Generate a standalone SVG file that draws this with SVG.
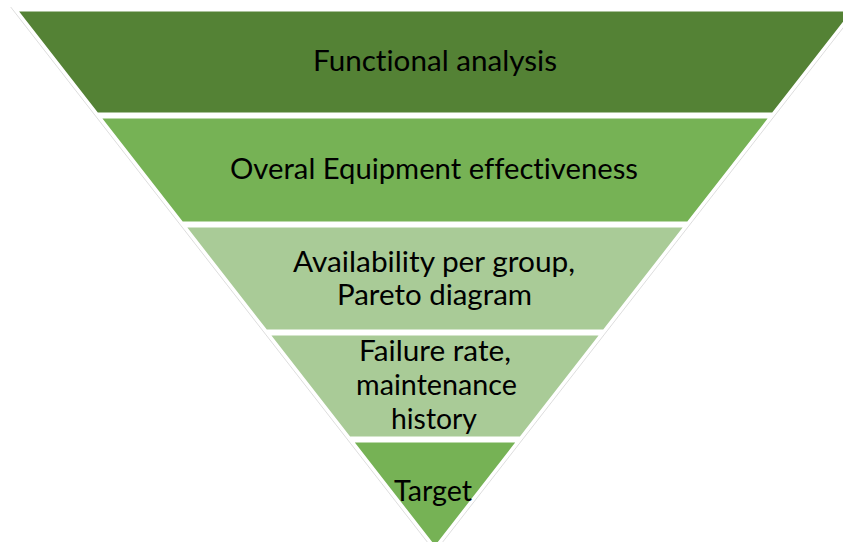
<svg xmlns="http://www.w3.org/2000/svg" width="843" height="542" viewBox="0 0 843 542">
<style>
.band{stroke:#ffffff;stroke-width:3;stroke-linejoin:miter}
.lbl{font-family:Lato,"Open Sans","Liberation Sans",sans-serif;font-size:29px;fill:#000000;text-anchor:middle;font-variant-ligatures:none}
.edge{stroke:#d4d4d4;stroke-width:0.8;fill:none}
</style>
<rect width="843" height="542" fill="#ffffff"/>
<g id="edges">
<line class="edge" x1="10.7" y1="7" x2="427.3" y2="542"/>
<line class="edge" x1="859.3" y1="7" x2="442.7" y2="542"/>
</g>
<g id="band1">
<polygon class="band" fill="#548235" points="16,10 854,10 773,114 97,114"/>
<text class="lbl" x="435" y="70.5" textLength="244" lengthAdjust="spacingAndGlyphs">Functional analysis</text>
</g>
<g id="band2">
<polygon class="band" fill="#76B255" points="99.3,117 770.7,117 688.1,223 181.9,223"/>
<text class="lbl" x="434" y="178.5" textLength="408" lengthAdjust="spacingAndGlyphs">Overal Equipment effectiveness</text>
</g>
<g id="band3">
<polygon class="band" fill="#A9CB97" points="184.2,226 685.8,226 604,331 266,331"/>
<text class="lbl" x="434" y="271.5" textLength="282" lengthAdjust="spacingAndGlyphs">Availability per group,</text>
<text class="lbl" x="434.5" y="304.5" textLength="195" lengthAdjust="spacingAndGlyphs">Pareto diagram</text>
</g>
<g id="band4">
<polygon class="band" fill="#A9CB97" points="268.3,334 601.7,334 520.7,438 349.3,438"/>
<text class="lbl" x="435" y="360.5" textLength="152" lengthAdjust="spacingAndGlyphs">Failure rate,</text>
<text class="lbl" x="436.5" y="394.5" textLength="161" lengthAdjust="spacingAndGlyphs">maintenance</text>
<text class="lbl" x="434" y="428.5" textLength="86" lengthAdjust="spacingAndGlyphs">history</text>
</g>
<g id="band5">
<polygon class="band" fill="#76B255" points="351.7,441 518.3,441 435,548"/>
<text class="lbl" x="433" y="500.5" textLength="78" lengthAdjust="spacingAndGlyphs">Target</text>
</g>
</svg>
